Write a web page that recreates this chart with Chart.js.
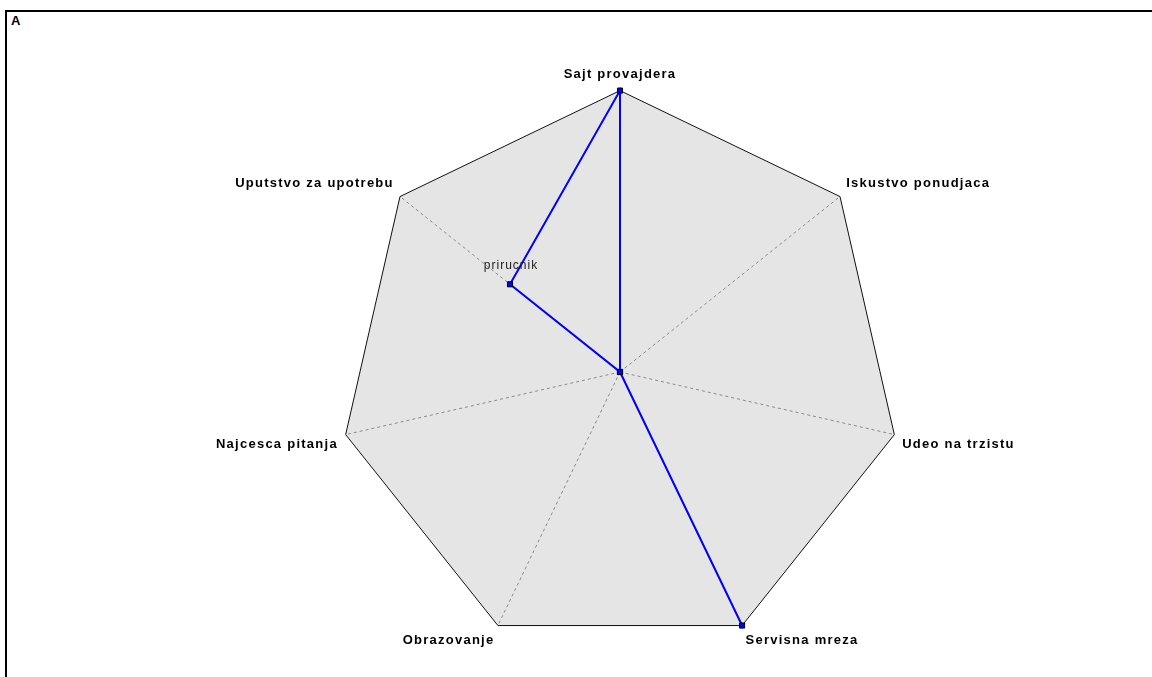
<!DOCTYPE html>
<html>
<head>
<meta charset="utf-8">
<script src="https://cdn.jsdelivr.net/npm/chart.js@4/dist/chart.umd.min.js"></script>
<style>
  html, body { margin: 0; padding: 0; background: #fff; overflow: hidden; }
  #wrap { position: relative; width: 1152px; height: 677px; }
  #frame { position: absolute; left: 5px; top: 10px; right: -10px; bottom: -10px;
           border-left: 2px solid #000; border-top: 2px solid #000; }
  #panel { position: absolute; left: 11px; top: 13px; font: bold 13px "Liberation Sans", Arial, sans-serif; color: #000; }
  canvas { position: absolute; left: 0; top: 0; }
</style>
</head>
<body>
<div id="wrap">
  <div id="frame"></div>
  <div id="panel">A</div>
  <canvas id="c" width="1152" height="677"></canvas>
</div>
<script>
// Axes of the radar, clockwise from the top
const categories = [
  'Sajt provajdera',
  'Iskustvo ponudjaca',
  'Udeo na trzistu',
  'Servisna mreza',
  'Obrazovanje',
  'Najcesca pitanja',
  'Uputstvo za upotrebu'
];
// Score on each axis (scale 0-10)
const scores = [10, 0, 0, 10, 0, 0, 5];
// Annotation written next to a point ('' = none)
const pointNotes = ['', '', '', '', '', '', 'prirucnik'];
const scaleMax = 10;

const spacing = {
  id: 'spacing',
  beforeLayout(chart) { chart.ctx.letterSpacing = '1.25px'; },
  beforeDraw(chart) { chart.ctx.letterSpacing = '1.25px'; }
};

// Grey web behind the data, filled out to the outer ring
const webFill = {
  id: 'webFill',
  beforeDraw(chart) {
    const s = chart.scales.r;
    const ctx = chart.ctx;
    ctx.save();
    ctx.beginPath();
    categories.forEach((_, i) => {
      const p = s.getPointPositionForValue(i, scaleMax);
      if (i === 0) ctx.moveTo(p.x, p.y); else ctx.lineTo(p.x, p.y);
    });
    ctx.closePath();
    ctx.fillStyle = '#e5e5e5';
    ctx.fill();
    ctx.restore();
  }
};

// Text notes above the points
const notes = {
  id: 'notes',
  afterDatasetsDraw(chart) {
    const ctx = chart.ctx;
    const pts = chart.getDatasetMeta(0).data;
    ctx.save();
    ctx.letterSpacing = '1px';
    ctx.font = '12px "Liberation Sans", Arial, sans-serif';
    ctx.fillStyle = '#222';
    ctx.textAlign = 'center';
    ctx.textBaseline = 'alphabetic';
    pointNotes.forEach((t, i) => {
      if (!t) return;
      ctx.fillText(t, pts[i].x + 1, pts[i].y - 15);
    });
    ctx.restore();
  }
};

new Chart(document.getElementById('c'), {
  type: 'radar',
  data: {
    labels: categories,
    datasets: [{
      data: scores,
      borderColor: '#0000ff',
      borderWidth: 2,
      backgroundColor: 'rgba(0,0,0,0)',
      fill: false,
      pointStyle: 'rect',
      pointRadius: 3.6,
      pointBackgroundColor: '#0000ff',
      pointBorderColor: '#000',
      pointBorderWidth: 1,
      tension: 0
    }]
  },
  options: {
    responsive: false,
    animation: false,
    devicePixelRatio: 1,
    layout: { padding: { top: 56, bottom: 10, left: 88, right: 0 } },
    plugins: { legend: { display: false }, tooltip: { enabled: false } },
    scales: {
      r: {
        min: 0,
        max: scaleMax,
        ticks: { display: false, stepSize: scaleMax },
        grid: { color: '#111', lineWidth: 1 },
        angleLines: { color: '#8a8a8a', lineWidth: 1, borderDash: [3, 3] },
        pointLabels: {
          color: '#000',
          padding: 8,
          font: { family: '"Liberation Sans", Arial, sans-serif', weight: 'bold', size: 13 }
        }
      }
    }
  },
  plugins: [spacing, webFill, notes]
});
</script>
</body>
</html>
